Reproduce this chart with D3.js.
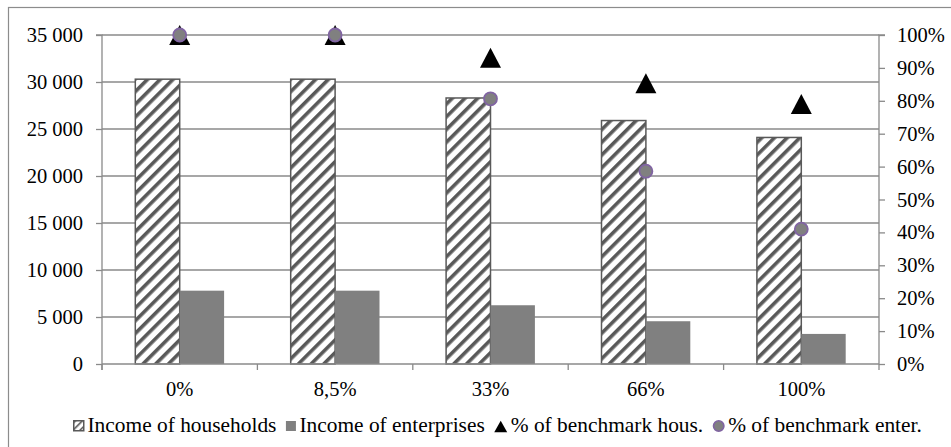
<!DOCTYPE html>
<html>
<head>
<meta charset="utf-8">
<script src="https://cdn.jsdelivr.net/npm/d3@7"></script>
<style>
  html, body { margin: 0; padding: 0; background: #fff; }
  svg { display: block; }
  text { font-family: "Liberation Serif", "Times New Roman", serif; fill: #000; }
</style>
</head>
<body>
<svg id="chart" width="951" height="447"></svg>
<script>
// Income scenarios by share of the benchmark
const categories = ["0%", "8,5%", "33%", "66%", "100%"];
const householdIncome = [30300, 30300, 28300, 25900, 24100];
const enterpriseIncome = [7800, 7800, 6250, 4550, 3200];
const benchmarkHous = [1.00, 1.00, 0.931, 0.853, 0.79];
const benchmarkEnter = [1.00, 1.00, 0.806, 0.586, 0.41];
const leftTicks = [0, 5000, 10000, 15000, 20000, 25000, 30000, 35000];
const rightTicks = [0, 0.1, 0.2, 0.3, 0.4, 0.5, 0.6, 0.7, 0.8, 0.9, 1.0];
const legendLabels = ["Income of households", "Income of enterprises", "% of benchmark hous.", "% of benchmark enter."];

const svg = d3.select("#chart");
const W = 951, H = 447;
const plot = { left: 102, right: 879, top: 35, bottom: 364 };
const fontSize = 20.5;
const legendFontSize = 21.4;
const gridColor = "#8a8a8a";
const darkGray = "#595959";
const barGray = "#808080";
const purple = "#8064A2";

// hatch pattern for household bars
const defs = svg.append("defs");
defs.append("pattern")
  .attr("id", "hatch")
  .attr("patternUnits", "userSpaceOnUse")
  .attr("width", 9).attr("height", 9)
  .attr("patternTransform", "rotate(45)")
  .call(p => {
    p.append("rect").attr("width", 9).attr("height", 9).attr("fill", "#fff");
    p.append("rect").attr("x", 0).attr("width", 3.6).attr("height", 9).attr("fill", darkGray);
  });
defs.append("pattern")
  .attr("id", "hatchSmall")
  .attr("patternUnits", "userSpaceOnUse")
  .attr("width", 5).attr("height", 5)
  .attr("patternTransform", "rotate(45)")
  .call(p => {
    p.append("rect").attr("width", 5).attr("height", 5).attr("fill", "#fff");
    p.append("rect").attr("x", 0).attr("width", 1.6).attr("height", 5).attr("fill", darkGray);
  });

// chart frame (left and top edges in view)
svg.append("rect")
  .attr("x", 8.5).attr("y", 7.5)
  .attr("width", W + 20).attr("height", H + 20)
  .attr("fill", "none").attr("stroke", "#8c8c8c").attr("stroke-width", 1.2);

// scales
const x = d3.scaleBand().domain(categories).range([plot.left, plot.right]).paddingInner(0).paddingOuter(0);
const yLeft = d3.scaleLinear().domain([0, 35000]).range([plot.bottom, plot.top]);
const yRight = d3.scaleLinear().domain([0, 1]).range([plot.bottom, plot.top]);
const barW = x.bandwidth() / 3.5;
const sub = d3.scaleBand().domain(["h", "e"]).range([0, 2 * barW]);

// gridlines
svg.append("g")
  .selectAll("line")
  .data(leftTicks.filter(d => d > 0))
  .join("line")
  .attr("x1", plot.left).attr("x2", plot.right)
  .attr("y1", d => yLeft(d)).attr("y2", d => yLeft(d))
  .attr("stroke", gridColor).attr("stroke-width", 1.3);

// bars
const groups = svg.append("g")
  .selectAll("g")
  .data(categories.map((c, i) => ({ c, i })))
  .join("g")
  .attr("transform", d => `translate(${x(d.c) + 0.75 * barW},0)`);

groups.append("rect")
  .attr("x", sub("h"))
  .attr("y", d => yLeft(householdIncome[d.i]))
  .attr("width", sub.bandwidth())
  .attr("height", d => yLeft(0) - yLeft(householdIncome[d.i]))
  .attr("fill", "url(#hatch)")
  .attr("stroke", darkGray).attr("stroke-width", 1.5);

groups.append("rect")
  .attr("x", sub("e"))
  .attr("y", d => yLeft(enterpriseIncome[d.i]))
  .attr("width", sub.bandwidth())
  .attr("height", d => yLeft(0) - yLeft(enterpriseIncome[d.i]))
  .attr("fill", barGray);

// axes
const axisColor = "#8a8a8a";
const leftAxis = svg.append("g")
  .attr("transform", `translate(${plot.left},0)`)
  .call(d3.axisLeft(yLeft).tickValues(leftTicks).tickSize(6).tickPadding(13)
    .tickFormat(d => d3.format(",")(d).replace(/,/g, " ")));
const rightAxis = svg.append("g")
  .attr("transform", `translate(${plot.right},0)`)
  .call(d3.axisRight(yRight).tickValues(rightTicks).tickSize(6).tickPadding(12)
    .tickFormat(d3.format(".0%")));
const bottomAxis = svg.append("g")
  .attr("transform", `translate(0,${plot.bottom})`)
  .call(d3.axisBottom(x).tickSize(0).tickPadding(17.5));

[leftAxis, rightAxis, bottomAxis].forEach(g => {
  g.attr("font-family", "Liberation Serif");
  g.select(".domain").attr("stroke", axisColor).attr("stroke-width", 1.3);
  g.selectAll(".tick line").attr("stroke", axisColor).attr("stroke-width", 1.3);
  g.selectAll("text").attr("font-size", fontSize).attr("fill", "#000");
});
leftAxis.select(".domain").attr("d", `M-6,${plot.top}H0V${plot.bottom + 6}`);
rightAxis.select(".domain").attr("d", `M6,${plot.top}H0V${plot.bottom}`);
bottomAxis.select(".domain").attr("d", `M${plot.left},0H${plot.right}`);
bottomAxis.selectAll(".tick text").attr("dy", "0.71em");

// category boundary ticks
svg.append("g")
  .selectAll("line")
  .data(categories.map(c => x(c)).concat([plot.right]))
  .join("line")
  .attr("x1", d => d).attr("x2", d => d)
  .attr("y1", plot.bottom).attr("y2", plot.bottom + 6)
  .attr("stroke", axisColor).attr("stroke-width", 1.3);

// markers on the percentage axis
const cx = c => x(c) + x.bandwidth() / 2;
const tri = (s, h) => `M0,${-h / 2}L${s / 2},${h / 2}L${-s / 2},${h / 2}Z`;

svg.append("g")
  .selectAll("path")
  .data(categories.map((c, i) => ({ c, v: benchmarkHous[i] })))
  .join("path")
  .attr("d", tri(21, 20))
  .attr("transform", d => `translate(${cx(d.c)},${yRight(d.v)})`)
  .attr("fill", "#000");

svg.append("g")
  .selectAll("circle")
  .data(categories.map((c, i) => ({ c, v: benchmarkEnter[i] })))
  .join("circle")
  .attr("cx", d => cx(d.c))
  .attr("cy", d => yRight(d.v))
  .attr("r", 6.5)
  .attr("fill", barGray)
  .attr("stroke", purple).attr("stroke-width", 1.8);

// legend
const legend = svg.append("g");
const legendY = 426;
let lx = 73;
legendLabels.forEach((label, i) => {
  const g = legend.append("g");
  let sw = 12;
  if (i === 0) {
    sw = 11;
    g.append("rect").attr("x", lx + 0.75).attr("y", legendY - 5.25).attr("width", 10).attr("height", 10)
      .attr("fill", "url(#hatchSmall)").attr("stroke", darkGray).attr("stroke-width", 1.5);
  } else if (i === 1) {
    sw = 10;
    g.append("rect").attr("x", lx).attr("y", legendY - 5).attr("width", 10).attr("height", 10).attr("fill", barGray);
  } else if (i === 2) {
    sw = 13;
    g.append("path").attr("d", tri(13, 11.6)).attr("transform", `translate(${lx + 6.5},${legendY + 0.5})`).attr("fill", "#000");
  } else {
    sw = 12;
    g.append("circle").attr("cx", lx + 6).attr("cy", legendY).attr("r", 5.2)
      .attr("fill", barGray).attr("stroke", purple).attr("stroke-width", 1.6);
  }
  const t = g.append("text")
    .attr("x", lx + sw + 3.5)
    .attr("y", legendY + 5.9)
    .attr("font-size", legendFontSize)
    .text(label);
  lx = lx + sw + 3.5 + t.node().getComputedTextLength() + 9.5;
});
</script>
</body>
</html>
